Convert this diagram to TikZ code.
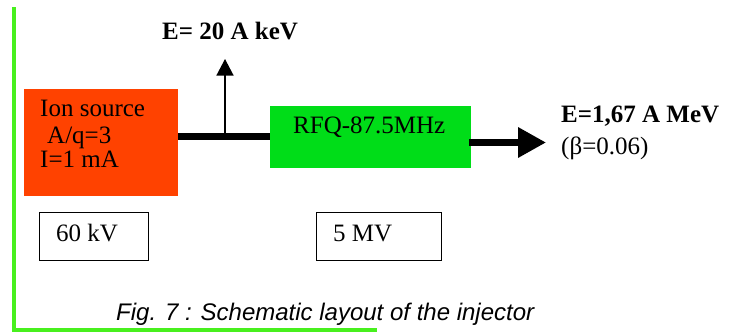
\documentclass[tikz,border=0pt]{standalone}
\usepackage{fontspec}
\setmainfont{Liberation Serif}
\setsansfont{Liberation Sans}
\usetikzlibrary{arrows.meta}
\definecolor{ionred}{RGB}{255,66,0}
\definecolor{rfqgreen}{RGB}{0,221,24}
\definecolor{framegreen}{RGB}{72,240,30}
\tikzset{
  blockbox/.style={draw=none, minimum width=#1, inner sep=0pt, anchor=north west},
  volt/.style={draw=black, line width=1pt, fill=white, inner sep=0pt, anchor=north west},
  txt/.style={anchor=base west, inner sep=0pt, font=\fontsize{25}{30}\selectfont},
  btxt/.style={txt, font=\fontsize{25}{30}\selectfont\bfseries},
  beam/.style={line width=7pt},
}
\begin{document}
\begin{tikzpicture}[x=1pt,y=-1pt]
\useasboundingbox (0,0) rectangle (739,332);
% frame lines
\draw[framegreen, line width=4pt] (13.5,7) -- (13.5,329.5) -- (377,329.5);
% ion source
\node[blockbox=154pt, minimum height=107pt, fill=ionred] (ion) at (24,89) {};
\node[txt] (t1) at (40,116) {Ion source};
\node[txt] (t2) at (47,143) {A/q=3};
\node[txt] (t3) at (40,167) {I=1 mA};
% RFQ
\node[blockbox=201.5pt, minimum height=62pt, fill=rfqgreen] (rfq) at (269.5,106) {};
\node[txt] (t4) at (293,133) {RFQ-87.5MHz};
% beam line
\coordinate (bl) at (178,136.5);
\coordinate (br) at (269.5,136.5);
\draw[beam] (bl) -- (br);
% vertical arrow
\coordinate (vb) at (225,133);
\coordinate (vt) at (225,59);
\draw[line width=1.3pt, -{Triangle[width=17pt,length=16.5pt]}] (vb) -- (vt);
\node[btxt] (e1) at (162,39) {E= 20 A keV};
% output arrow
\coordinate (ol) at (469,142.5);
\coordinate (or) at (546,142.5);
\draw[line width=6.5pt, -{Triangle[width=29pt,length=28pt]}] (ol) -- (or);
\node[btxt] (e2) at (561,122) {E=1,67 A MeV};
\node[txt] (b1) at (561,154) {(β=0.06)};
% voltage boxes
\node[volt, minimum width=109pt, minimum height=48pt] (v1) at (39,212) {};
\node[txt] (v1t) at (56,241) {60 kV};
\node[volt, minimum width=125pt, minimum height=48pt] (v2) at (316,212) {};
\node[txt] (v2t) at (333,241) {5 MV};
% caption
\node[anchor=base west, inner sep=0pt, font=\sffamily\itshape\fontsize{24}{28}\selectfont] (cap) at (116,320) {Fig. 7 : Schematic layout of the injector};
\end{tikzpicture}
\end{document}
